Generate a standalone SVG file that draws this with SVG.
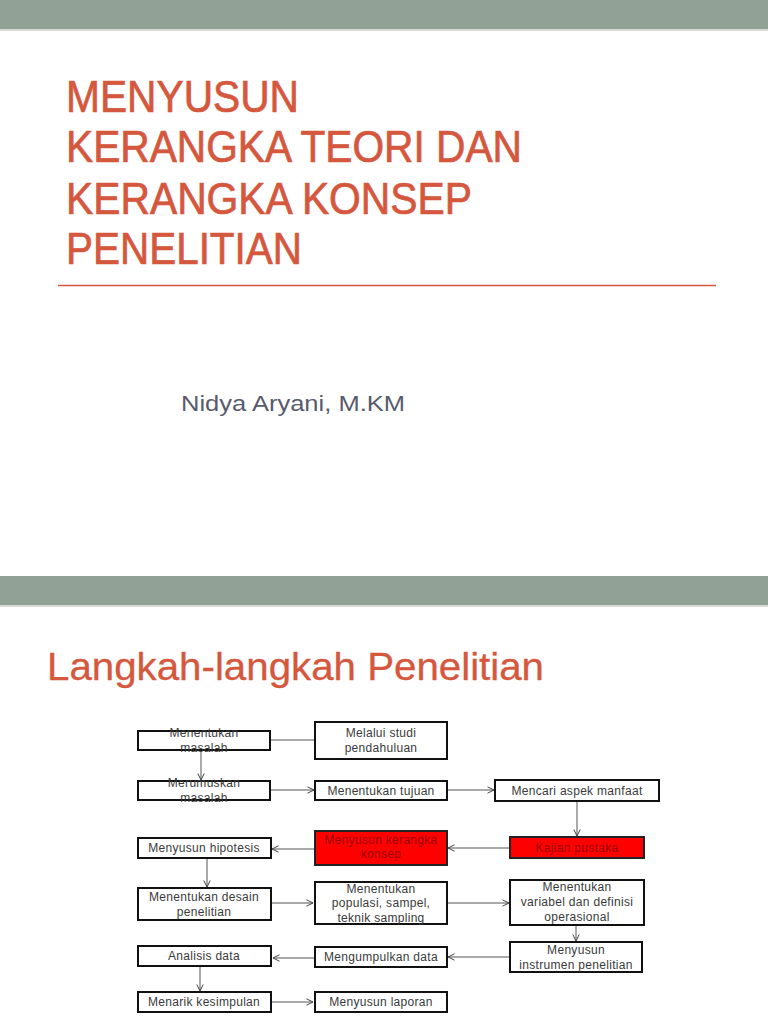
<svg xmlns="http://www.w3.org/2000/svg" width="768" height="1024" viewBox="0 0 768 1024">
<defs>
<marker id="arr" viewBox="0 0 8 8" refX="7.5" refY="4" markerWidth="8" markerHeight="8" markerUnits="userSpaceOnUse" orient="auto">
<path d="M1,0.8 L7.5,4 L1,7.2" fill="none" stroke="#444" stroke-width="1"/>
</marker>
</defs>
<style>
.bar{fill:#91a195}
.barline{fill:#d4dbd5}
.title{font-family:"Liberation Sans",Arial,sans-serif;fill:#d5573d;stroke:#d5573d;stroke-width:0.7;font-size:45px}
.author{font-family:"Liberation Sans",Arial,sans-serif;fill:#575b6e;font-size:22px}
.h2{font-family:"Liberation Sans",Arial,sans-serif;fill:#d5573d;stroke:#d5573d;stroke-width:0.3;font-size:38px}
.box{fill:#fff;stroke:#111;stroke-width:2}
.rbox{fill:#ff0000;stroke:#222;stroke-width:2}
.t{font-family:"Liberation Sans",Arial,sans-serif;fill:#3a3a3a;font-size:12px;letter-spacing:0.3px;text-anchor:middle}
.rt{font-family:"Liberation Sans",Arial,sans-serif;fill:#9a0000;font-size:12px;letter-spacing:0.3px;text-anchor:middle}
.c{fill:none;stroke:#555;stroke-width:1}
</style>
<rect width="768" height="1024" fill="#fff"/>
<rect class="bar" x="0" y="0" width="768" height="29"/>
<rect class="barline" x="0" y="29" width="768" height="2"/>
<text class="title" x="66" y="112" textLength="233" lengthAdjust="spacingAndGlyphs">MENYUSUN</text>
<text class="title" x="66" y="162" textLength="456" lengthAdjust="spacingAndGlyphs">KERANGKA TEORI DAN</text>
<text class="title" x="66" y="214" textLength="406" lengthAdjust="spacingAndGlyphs">KERANGKA KONSEP</text>
<text class="title" x="66" y="264" textLength="236" lengthAdjust="spacingAndGlyphs">PENELITIAN</text>
<line x1="58" y1="285.5" x2="716" y2="285.5" stroke="#d5573d" stroke-width="1.5"/>
<text class="author" x="181" y="411" textLength="224" lengthAdjust="spacingAndGlyphs">Nidya Aryani, M.KM</text>
<rect class="bar" x="0" y="576" width="768" height="29"/>
<rect class="barline" x="0" y="605" width="768" height="2"/>
<text class="h2" x="47" y="680" textLength="497" lengthAdjust="spacingAndGlyphs">Langkah-langkah Penelitian</text>
<g id="connectors">
<line class="c" x1="270" y1="740" x2="315" y2="740"/>
<line class="c" x1="201" y1="751" x2="201" y2="780" marker-end="url(#arr)"/>
<line class="c" x1="270" y1="790" x2="314" y2="790" marker-end="url(#arr)"/>
<line class="c" x1="447" y1="790" x2="494" y2="790" marker-end="url(#arr)"/>
<line class="c" x1="577" y1="801" x2="577" y2="836" marker-end="url(#arr)"/>
<line class="c" x1="510" y1="848" x2="448" y2="848" marker-end="url(#arr)"/>
<line class="c" x1="314" y1="849" x2="272" y2="849" marker-end="url(#arr)"/>
<line class="c" x1="207" y1="858" x2="207" y2="887" marker-end="url(#arr)"/>
<line class="c" x1="271" y1="903" x2="313" y2="903" marker-end="url(#arr)"/>
<line class="c" x1="447" y1="903" x2="509" y2="903" marker-end="url(#arr)"/>
<line class="c" x1="576" y1="925" x2="576" y2="941" marker-end="url(#arr)"/>
<line class="c" x1="510" y1="957" x2="448" y2="957" marker-end="url(#arr)"/>
<line class="c" x1="314" y1="958" x2="273" y2="958" marker-end="url(#arr)"/>
<line class="c" x1="200" y1="966" x2="200" y2="991" marker-end="url(#arr)"/>
<line class="c" x1="272" y1="1002" x2="313" y2="1002" marker-end="url(#arr)"/>
</g>
<g id="n1"><rect class="box" x="138" y="731" width="132" height="19"/><text class="t" x="204" y="737">Menentukan</text><text class="t" x="204" y="752">masalah</text></g>
<g id="n2"><rect class="box" x="315" y="722" width="132" height="37"/><text class="t" x="381" y="737">Melalui studi</text><text class="t" x="381" y="752">pendahuluan</text></g>
<g id="n3"><rect class="box" x="138" y="781" width="132" height="19"/><text class="t" x="204" y="787">Merumuskan</text><text class="t" x="204" y="802">masalah</text></g>
<g id="n4"><rect class="box" x="315" y="781" width="132" height="19"/><text class="t" x="381" y="795">Menentukan tujuan</text></g>
<g id="n5"><rect class="box" x="495" y="780" width="164" height="21"/><text class="t" x="577" y="795">Mencari aspek manfaat</text></g>
<g id="n6"><rect class="box" x="138" y="838" width="133" height="20"/><text class="t" x="204" y="852">Menyusun hipotesis</text></g>
<g id="n7"><rect class="rbox" x="315" y="831" width="132" height="34"/><text class="rt" x="381" y="844">Menyusun kerangka</text><text class="rt" x="381" y="858">konsep</text></g>
<g id="n8"><rect class="rbox" x="510" y="837" width="134" height="21"/><text class="rt" x="577" y="852">Kajian pustaka</text></g>
<g id="n9"><rect class="box" x="138" y="888" width="133" height="32"/><text class="t" x="204" y="901">Menentukan desain</text><text class="t" x="204" y="916">penelitian</text></g>
<g id="n10"><rect class="box" x="315" y="882" width="132" height="42"/><text class="t" x="381" y="893">Menentukan</text><text class="t" x="381" y="907">populasi, sampel,</text><text class="t" x="381" y="922">teknik sampling</text></g>
<g id="n11"><rect class="box" x="510" y="880" width="134" height="45"/><text class="t" x="577" y="891">Menentukan</text><text class="t" x="577" y="906">variabel dan definisi</text><text class="t" x="577" y="921">operasional</text></g>
<g id="n12"><rect class="box" x="138" y="946" width="133" height="20"/><text class="t" x="204" y="960">Analisis data</text></g>
<g id="n13"><rect class="box" x="315" y="947" width="132" height="20"/><text class="t" x="381" y="961">Mengumpulkan data</text></g>
<g id="n14"><rect class="box" x="510" y="942" width="132" height="30"/><text class="t" x="576" y="954">Menyusun</text><text class="t" x="576" y="969">instrumen penelitian</text></g>
<g id="n15"><rect class="box" x="138" y="992" width="133" height="20"/><text class="t" x="204" y="1006">Menarik kesimpulan</text></g>
<g id="n16"><rect class="box" x="315" y="992" width="132" height="20"/><text class="t" x="381" y="1006">Menyusun laporan</text></g>
</svg>
